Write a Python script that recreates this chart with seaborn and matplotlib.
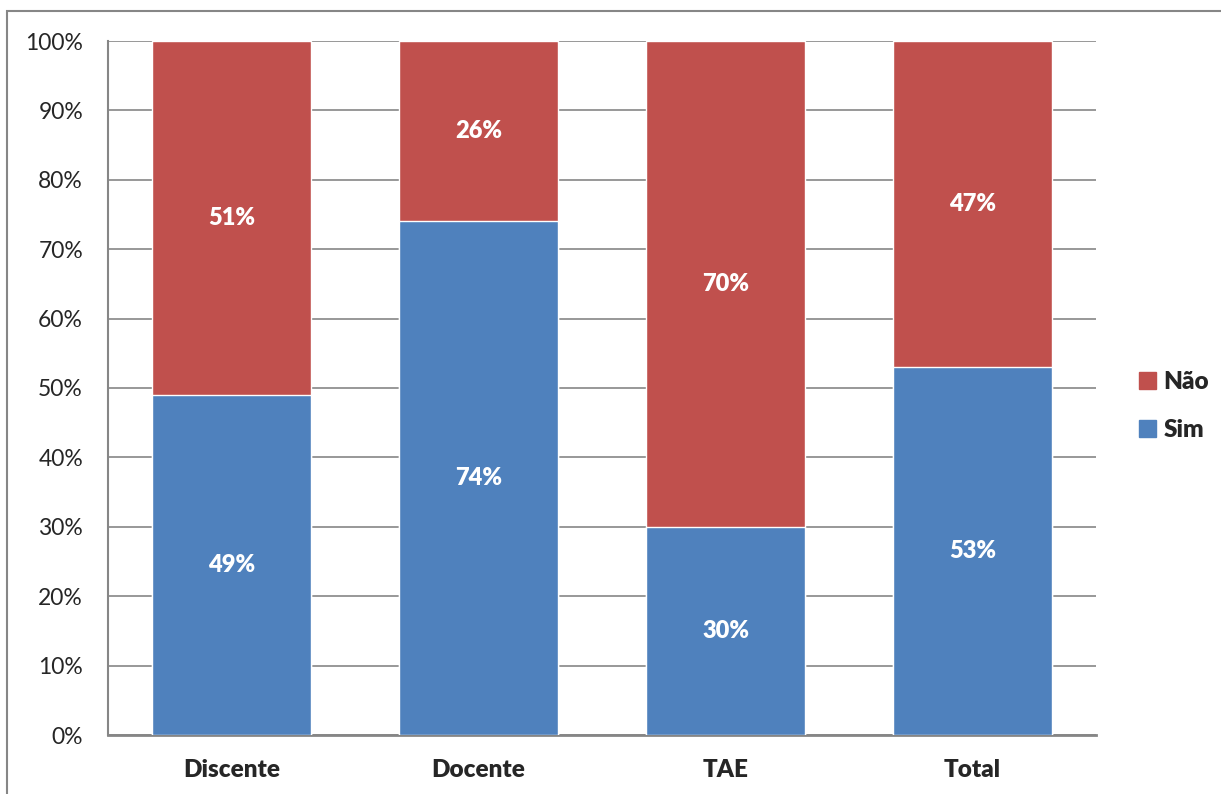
import matplotlib
matplotlib.use("Agg")
import matplotlib.pyplot as plt
import matplotlib.patches as mpatches
import seaborn as sns
import numpy as np

categorias = ["Discente", "Docente", "TAE", "Total"]
sim = [49, 74, 30, 53]
nao = [51, 26, 70, 47]
y_ticks = [0, 10, 20, 30, 40, 50, 60, 70, 80, 90, 100]

cor_sim = "#4F81BD"
cor_nao = "#C0504D"
cinza = "#868686"

sns.set_style("white")
plt.rcParams['font.family'] = ['Lato', 'DejaVu Sans']

fig = plt.figure(figsize=(12.21, 7.94), dpi=100)
ax = fig.add_axes([108 / 1221, 1 - 735 / 794, (1096 - 108) / 1221, (735 - 41) / 794])

total = np.array(sim) + np.array(nao)
sns.barplot(x=categorias, y=total, color=cor_nao, width=0.644, saturation=1, ax=ax, zorder=3)
sns.barplot(x=categorias, y=sim, color=cor_sim, width=0.644, saturation=1, ax=ax, zorder=3)

for i, (s, n) in enumerate(zip(sim, nao)):
    ax.text(i, s / 2, f"{s}%", ha="center", va="center", color="white",
            fontsize=17, fontweight="heavy", zorder=4)
    ax.text(i, s + n / 2, f"{n}%", ha="center", va="center", color="white",
            fontsize=17, fontweight="heavy", zorder=4)

ax.set_ylim(0, 100)
ax.set_xlim(-0.5, len(categorias) - 0.5)
ax.set_yticks(y_ticks)
ax.set_yticklabels([f"{t}%" for t in y_ticks], fontsize=16.5)
ax.yaxis.grid(True, color=cinza, linewidth=1.2, zorder=0)
ax.set_axisbelow(True)
ax.tick_params(axis="y", length=0, pad=18)
ax.tick_params(axis="x", length=0, pad=17)
for lbl in ax.get_xticklabels():
    lbl.set_fontweight("heavy")
    lbl.set_fontsize(17.5)

ax.spines["top"].set_visible(False)
ax.spines["right"].set_visible(False)
ax.spines["left"].set_color(cinza)
ax.spines["bottom"].set_color(cinza)
ax.spines["left"].set_linewidth(1.5)
ax.spines["bottom"].set_linewidth(2)
ax.set_xlabel("")
ax.set_ylabel("")

handles = [mpatches.Patch(color=cor_nao, label="Não"),
           mpatches.Patch(color=cor_sim, label="Sim")]
fig.legend(handles=handles, loc="center left", bbox_to_anchor=(1117 / 1221, 1 - 406 / 794),
           frameon=False, handlelength=0.7, handleheight=0.7,
           handletextpad=0.3, labelspacing=1.1, prop={"weight": "heavy", "size": 17.5})

borda = mpatches.Rectangle((7 / 1221, -0.05), 1.2, 1 - 11 / 794 + 0.05,
                           transform=fig.transFigure, fill=False,
                           edgecolor=cinza, linewidth=1.5, clip_on=False)
fig.patches.append(borda)

fig.savefig("out.png", dpi=100)
